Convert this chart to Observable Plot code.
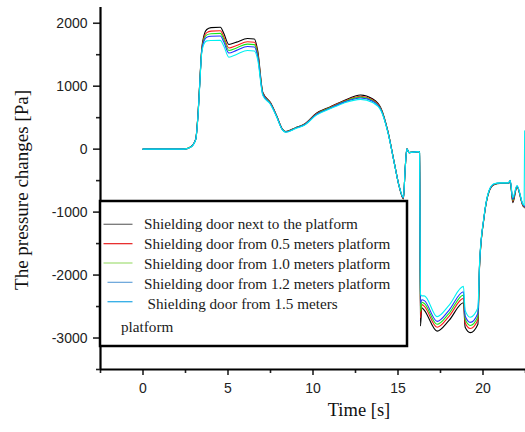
<!DOCTYPE html>
<html>
<head>
<meta charset="utf-8">
<script src="https://cdn.jsdelivr.net/npm/d3@7"></script>
<script src="https://cdn.jsdelivr.net/npm/@observablehq/plot@0.6"></script>
<style>
  html, body { margin: 0; padding: 0; background: #fff; }
  #chart { width: 525px; height: 432px; }
</style>
</head>
<body>
<div id="chart"></div>
<script>
// ---- data ----
const time = [0, 2.4, 2.8, 3.1, 3.25, 3.35, 3.45, 3.6, 3.75, 4.0,
  4.55, 4.75, 5.05, 5.5, 6.15, 6.55, 6.75, 7.05, 7.5, 7.85,
  8.2, 8.4, 9.0, 9.5, 10.2, 11.0, 11.8, 12.8, 13.5, 14.0,
  14.4, 14.8, 15.05, 15.32, 15.42, 15.52, 15.65, 16.2, 16.27, 16.32,
  16.4, 16.55, 17.3, 18.0, 18.85, 18.95, 19.25, 19.7, 19.8, 20.05,
  20.35, 20.65, 21.0, 21.5, 21.6, 21.75, 22.0, 22.35, 22.42, 22.45];

const doorNext = [0, 0, 35, 160, 620, 1120, 1580, 1820, 1900, 1930,
  1937, 1840, 1662, 1700, 1757, 1750, 1560, 900, 740, 540,
  320, 280, 345, 400, 570, 670, 770, 860, 800, 650,
  290, -240, -570, -790, -320, 5, -55, -40, -50, -2810,
  -2520, -2560, -2890, -2720, -2440, -2830, -2915, -2780, -1850, -1110,
  -680, -565, -545, -545, -505, -850, -600, -900, -920, -930];
const door05 = [0, 0, 34, 157, 612, 1109, 1564, 1782, 1851, 1875,
  1881, 1786, 1607, 1647, 1706, 1699, 1522, 887, 732, 535,
  316, 277, 341, 395, 562, 662, 759, 841, 784, 639,
  285, -243, -570, -783, -320, 5, -55, -40, -50, -2680,
  -2469, -2498, -2828, -2655, -2370, -2757, -2849, -2710, -1836, -1105,
  -675, -561, -542, -542, -502, -828, -595, -892, -912, -925];
const door10 = [0, 0, 33, 155, 606, 1101, 1552, 1754, 1815, 1834,
  1839, 1746, 1567, 1608, 1668, 1661, 1494, 877, 726, 531,
  313, 274, 338, 391, 556, 656, 751, 827, 772, 631,
  281, -245, -570, -778, -320, 5, -55, -40, -50, -2580,
  -2431, -2452, -2782, -2607, -2318, -2703, -2800, -2658, -1826, -1101,
  -671, -558, -540, -540, -500, -812, -591, -886, -906, -920];
const door12 = [0, 0, 32, 153, 600, 1093, 1540, 1726, 1779, 1793,
  1797, 1706, 1527, 1569, 1630, 1623, 1466, 867, 720, 527,
  310, 272, 335, 387, 550, 650, 743, 813, 760, 623,
  277, -247, -570, -773, -320, 5, -55, -40, -50, -2450,
  -2393, -2406, -2736, -2559, -2266, -2649, -2751, -2606, -1816, -1097,
  -667, -555, -538, -538, -498, -796, -587, -880, -900, -915];
const door15 = [0, 0, 30, 150, 590, 1080, 1520, 1680, 1720, 1725,
  1728, 1640, 1460, 1505, 1567, 1560, 1420, 850, 710, 520,
  305, 268, 330, 380, 540, 640, 730, 790, 740, 610,
  270, -250, -570, -765, -320, 5, -55, -40, -50, -2300,
  -2330, -2330, -2660, -2480, -2180, -2560, -2670, -2520, -1800, -1090,
  -660, -550, -535, -535, -495, -770, -580, -870, -890, 290];

const seriesNames = [
  "Shielding door next to the platform",
  "Shielding door from 0.5 meters platform",
  "Shielding door from 1.0 meters platform",
  "Shielding door from 1.2 meters platform",
  " Shielding door from 1.5 meters platform"
];
const xMajorTicks = [0, 5, 10, 15, 20];
const xMinorTicks = [-2.5, 2.5, 7.5, 12.5, 17.5, 22.5];
const yMajorTicks = [-3000, -2000, -1000, 0, 1000, 2000];
const yMinorTicks = [-3500, -2500, -1500, -500, 500, 1500];

// ---- styling ----
const lineColors = ["#000000", "#ff1a1a", "#19e619", "#2233ff", "#00f0f0"];
const legendColors = ["#777777", "#e83030", "#a9e07f", "#72aadc", "#30acE6"];

const allSeries = [doorNext, door05, door10, door12, door15];
const rows = allSeries.map((vals, i) => time.map((t, j) => ({t, v: vals[j], s: seriesNames[i]})));
const plain = d => String(d);
const none = () => "";

const chart = Plot.plot({
  width: 525,
  height: 432,
  marginLeft: 100,
  marginRight: 0,
  marginTop: 7,
  marginBottom: 63,
  x: {domain: [-2.5, 22.5]},
  y: {domain: [-3500, 2250]},
  style: {fontFamily: "'Liberation Sans', Arial, sans-serif", fontSize: "14px", color: "#222", background: "#fff", overflow: "visible"},
  marks: [
    Plot.axisX({ticks: xMajorTicks, tickSize: 6, tickPadding: 8, tickFormat: plain, label: null, strokeWidth: 1.6}),
    Plot.axisX({ticks: xMinorTicks, tickSize: 4, tickFormat: none, label: null, strokeWidth: 1.6}),
    Plot.axisY({ticks: yMajorTicks, tickSize: 7, tickPadding: 6, tickFormat: plain, label: null, strokeWidth: 1.6}),
    Plot.axisY({ticks: yMinorTicks, tickSize: 4, tickFormat: none, label: null, strokeWidth: 1.6}),
    ...rows.map((r, i) => Plot.line(r, {x: "t", y: "v", stroke: lineColors[i], strokeWidth: 1.1, curve: "monotone-x"})),
    Plot.ruleX([-2.5], {strokeWidth: 2.2, stroke: "#000"}),
    Plot.ruleY([-3500], {strokeWidth: 2.2, stroke: "#000"})
  ]
});
document.getElementById("chart").appendChild(chart);

// ---- titles and legend ----
const svg = d3.select(chart);
const serif = "'Liberation Serif', 'Times New Roman', serif";
svg.append("text")
  .attr("transform", "translate(28,190) rotate(-90)")
  .attr("text-anchor", "middle")
  .attr("font-family", serif).attr("font-size", 19).attr("fill", "#111")
  .text("The pressure changes [Pa]");
svg.append("text")
  .attr("x", 359).attr("y", 416)
  .attr("text-anchor", "middle")
  .attr("font-family", serif).attr("font-size", 18.5).attr("fill", "#111")
  .text("Time [s]");

const lg = svg.append("g").attr("text-anchor", "start");
lg.append("rect").attr("x", 100).attr("y", 201).attr("width", 307).attr("height", 145)
  .attr("fill", "#fff").attr("stroke", "#000").attr("stroke-width", 2.5);
seriesNames.forEach((name, i) => {
  const ys = 224.3 + i * 19.35;
  const yt = 228.5 + i * 20;
  lg.append("line").attr("x1", i < 3 ? 103.5 : 107.5).attr("x2", 132.5).attr("y1", ys).attr("y2", ys)
    .attr("stroke", legendColors[i]).attr("stroke-width", 1.3);
  const txt = lg.append("text").attr("font-family", serif).attr("font-size", 15.2).attr("fill", "#1a1a1a")
    .attr("text-anchor", "start");
  if (i < 4) {
    txt.attr("x", 144).attr("y", yt).text(name);
  } else {
    const words = name.trim().split(" ");
    const last = words.pop();
    txt.append("tspan").attr("x", 147.5).attr("y", yt).text(words.join(" "));
    txt.append("tspan").attr("x", 121).attr("y", yt + 23.5).text(last);
  }
});
</script>
</body>
</html>
